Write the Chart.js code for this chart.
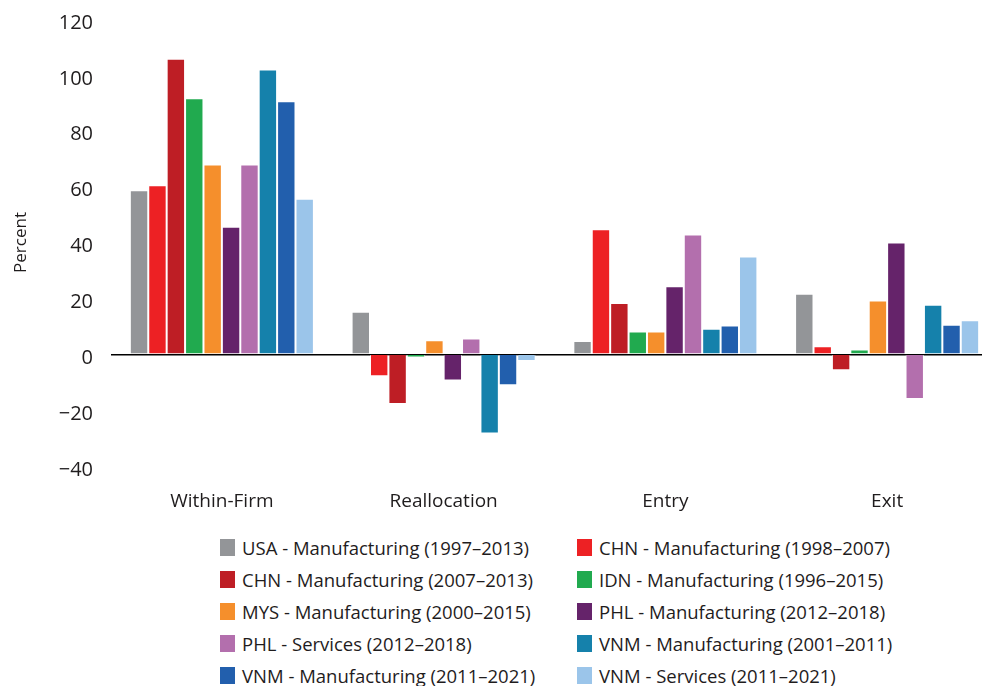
<!DOCTYPE html>
<html>
<head>
<meta charset="utf-8">
<script src="https://cdn.jsdelivr.net/npm/chart.js@4/dist/chart.umd.min.js"></script>
<style>
  html, body { margin: 0; padding: 0; background: #fff; overflow: hidden; }
  body { width: 982px; height: 686px; position: relative; }
  #wrap { position: absolute; left: 0; top: -11px; width: 1000px; height: 527px; }
  #legend {
    position: absolute; left: 220px; top: 531px;
    display: grid; grid-template-columns: 357px 360px;
    font-family: 'Open Sans', sans-serif; font-size: 18.5px; color: #1f1c1d;
  }
  #legend div { height: 32px; display: flex; align-items: center; white-space: nowrap; }
  #legend span { display: inline-block; width: 15px; height: 17px; margin-right: 7px; }
</style>
</head>
<body>
<div id="wrap"><canvas id="myChart" width="1000" height="527"></canvas></div>
<div id="legend"></div>
<script>
'use strict'

// Global variables:
const categories = ['Within-Firm', 'Reallocation', 'Entry', 'Exit'];
const yTicks = [-40, -20, 0, 20, 40, 60, 80, 100, 120];

const seriesNames = [
  'USA - Manufacturing (1997\u20132013)',
  'CHN - Manufacturing (1998\u20132007)',
  'CHN - Manufacturing (2007\u20132013)',
  'IDN - Manufacturing (1996\u20132015)',
  'MYS - Manufacturing (2000\u20132015)',
  'PHL - Manufacturing (2012\u20132018)',
  'PHL - Services (2012\u20132018)',
  'VNM - Manufacturing (2001\u20132011)',
  'VNM - Manufacturing (2011\u20132021)',
  'VNM - Services (2011\u20132021)'
];

// values per series: Within-Firm, Reallocation, Entry, Exit
const usaMfg = [58.7, 15.2, 4.7, 21.7];
const chnMfg9807 = [60.5, -7.9, 44.7, 2.9];
const chnMfg0713 = [105.8, -17.8, 18.3, -5.7];
const idnMfg = [91.6, -1.2, 8.1, 1.7];
const mysMfg = [67.9, 5.0, 8.1, 19.2];
const phlMfg = [45.6, -9.4, 24.3, 40.0];
const phlSvc = [67.9, 5.6, 42.9, -16.0];
const vnmMfg0111 = [101.9, -28.4, 9.1, 17.7];
const vnmMfg1121 = [90.6, -11.1, 10.3, 10.6];
const vnmSvc = [55.7, -2.4, 35.0, 12.2];

const seriesValues = [usaMfg, chnMfg9807, chnMfg0713, idnMfg, mysMfg,
  phlMfg, phlSvc, vnmMfg0111, vnmMfg1121, vnmSvc];

const colors = ['#939598', '#ed2124', '#be1e25', '#21aa4f', '#f58f2c',
  '#65236a', '#b36fad', '#1581ab', '#225fad', '#9bc5ea'];

const fontFamily = "'Open Sans', sans-serif";
const textColor = '#1f1c1d';

//------------build datasets--------------//
let datasets = [];
for (let i = 0; i < seriesNames.length; i++) {
  datasets.push({
    label: seriesNames[i],
    data: seriesValues[i],
    backgroundColor: colors[i],
    borderColor: 'rgba(255,255,255,0.6)',
    borderWidth: 1,
    barPercentage: 1.0,
    categoryPercentage: 0.83
  });
}

//------------html legend (two columns)--------------//
const legend = document.getElementById('legend');
for (let i = 0; i < seriesNames.length; i++) {
  let item = document.createElement('div');
  let box = document.createElement('span');
  box.style.background = colors[i];
  item.appendChild(box);
  item.appendChild(document.createTextNode(seriesNames[i]));
  legend.appendChild(item);
}

//------------render Chart--------------//
const config = {
  type: 'bar',
  data: { labels: categories, datasets: datasets },
  options: {
    responsive: false,
    animation: false,
    devicePixelRatio: 1,
    layout: { padding: { top: 6, right: 2, left: 0, bottom: 0 } },
    plugins: { legend: { display: false }, tooltip: { enabled: false } },
    scales: {
      x: {
        grid: { display: false },
        border: { display: false },
        ticks: { color: textColor, font: { family: fontFamily, size: 19 }, padding: 16 },
        afterFit: function (scale) { scale.height = 50; }
      },
      y: {
        min: -40,
        max: 120,
        afterBuildTicks: function (scale) {
          scale.ticks = yTicks.map(function (v) { return { value: v }; });
        },
        grid: {
          drawTicks: false,
          color: function (ctx) { return ctx.tick && ctx.tick.value === 0 ? '#000' : 'rgba(0,0,0,0)'; },
          lineWidth: 1.5
        },
        border: { display: false },
        ticks: {
          color: textColor,
          font: { family: fontFamily, size: 20 },
          padding: 18,
          labelOffset: 4,
          callback: function (v) { return v < 0 ? '\u2212' + Math.abs(v) : String(v); }
        },
        title: {
          display: true,
          text: 'Percent',
          color: textColor,
          font: { family: fontFamily, size: 17 },
          padding: { top: 11, bottom: 0 }
        },
        afterFit: function (scale) { scale.width = 111; }
      }
    }
  }
};

let canvasChart = document.getElementById('myChart');
const myChart = new Chart(canvasChart, config);
</script>
</body>
</html>
